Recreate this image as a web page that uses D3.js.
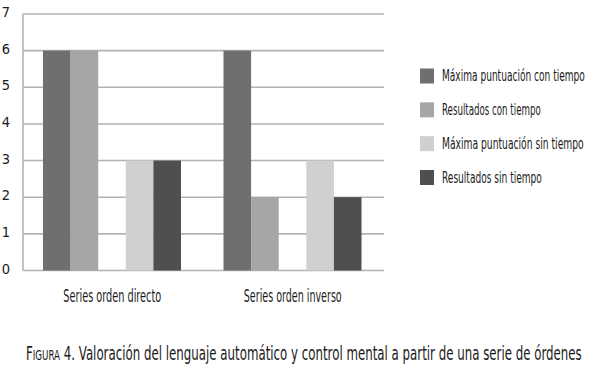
<!DOCTYPE html>
<html><head><meta charset="utf-8">
<script src="https://cdn.jsdelivr.net/npm/d3@7"></script>
<style>body{margin:0;background:#fff}svg{display:block}text{font-family:"Liberation Sans Narrow","DejaVu Sans Condensed",sans-serif;fill:#1a1a1a}</style>
</head><body><svg id="c" width="600" height="370"></svg>
<script>
const categories = ["Series orden directo", "Series orden inverso"];
const seriesNames = ["Máxima puntuación con tiempo", "Resultados con tiempo", "Máxima puntuación sin tiempo", "Resultados sin tiempo"];
const maxConTiempo = [6, 6];
const resConTiempo = [6, 2];
const maxSinTiempo = [3, 3];
const resSinTiempo = [3, 2];
const yTicks = [0, 1, 2, 3, 4, 5, 6, 7];
const colors = ["#6f6f6f", "#a6a6a6", "#d0d0d0", "#4f4f4f"];
const captionLead = "F", captionSmall = "IGURA", captionRest = " 4. Valoración del lenguaje automático y control mental a partir de una serie de órdenes";

const values = [maxConTiempo, resConTiempo, maxSinTiempo, resSinTiempo];
const svg = d3.select("#c");

function squeeze(textSel, x, target) {
  const w = textSel.node().getBBox().width;
  const k = target / w;
  textSel.attr("transform", `translate(${x},0) scale(${k},1) translate(${-x},0)`);
}

const y = d3.scaleLinear().domain([0, 7]).range([270.5, 14]);
const x0 = d3.scaleBand().domain(categories).range([23, 384]).padding(0);
const slots = [seriesNames[0], seriesNames[1], "_gap", seriesNames[2], seriesNames[3]];
const x1 = d3.scaleBand().domain(slots).range([20, 158]).padding(0);
const color = d3.scaleOrdinal().domain(seriesNames).range(colors);

// grid lines
svg.append("g").selectAll("line").data(yTicks).join("line")
  .attr("x1", 23).attr("x2", 384)
  .attr("y1", d => y(d)).attr("y2", d => y(d))
  .attr("stroke", "#b3b3b3").attr("stroke-width", 1.6);
svg.append("line").attr("x1", 23).attr("x2", 23).attr("y1", y(7)).attr("y2", y(0))
  .attr("stroke", "#b3b3b3").attr("stroke-width", 1.6);

// y tick labels
svg.append("g").selectAll("text").data(yTicks).join("text")
  .attr("x", 6).attr("y", d => y(d) + 3)
  .attr("text-anchor", "middle").attr("font-size", 14.5)
  .text(d => d);

// bars
const rows = [];
categories.forEach((c, i) => seriesNames.forEach((s, j) => rows.push({ c, s, v: values[j][i] })));
svg.append("g").selectAll("rect").data(rows).join("rect")
  .attr("x", d => x0(d.c) + x1(d.s))
  .attr("width", x1.bandwidth())
  .attr("y", d => y(d.v))
  .attr("height", d => y(0) - y(d.v))
  .attr("fill", d => color(d.s));

// category labels
categories.forEach(c => {
  const cx = x0(c) + x0.bandwidth() / 2 - 1;
  const t = svg.append("text").attr("x", cx).attr("y", 302.5).attr("text-anchor", "middle")
    .attr("font-size", 17).text(c);
  squeeze(t, cx, 98);
});

// legend
const legendY = d3.scalePoint().domain(seriesNames).range([76, 177.5]);
const widths = [143, 99, 142, 100];
const lg = svg.append("g");
seriesNames.forEach((s, i) => {
  const cy = legendY(s);
  lg.append("rect").attr("x", 420).attr("y", cy - 7.5).attr("width", 14).attr("height", 15).attr("fill", color(s));
  const t = lg.append("text").attr("x", 442).attr("y", cy + 5.5).attr("font-size", 16).text(s);
  squeeze(t, 442, widths[i]);
});

// caption
const cap = svg.append("text").attr("x", 26).attr("y", 360.5).attr("font-size", 19);
cap.append("tspan").text(captionLead);
cap.append("tspan").attr("font-size", 14).text(captionSmall);
cap.append("tspan").text(captionRest);
squeeze(cap, 26, 556);
</script></body></html>
